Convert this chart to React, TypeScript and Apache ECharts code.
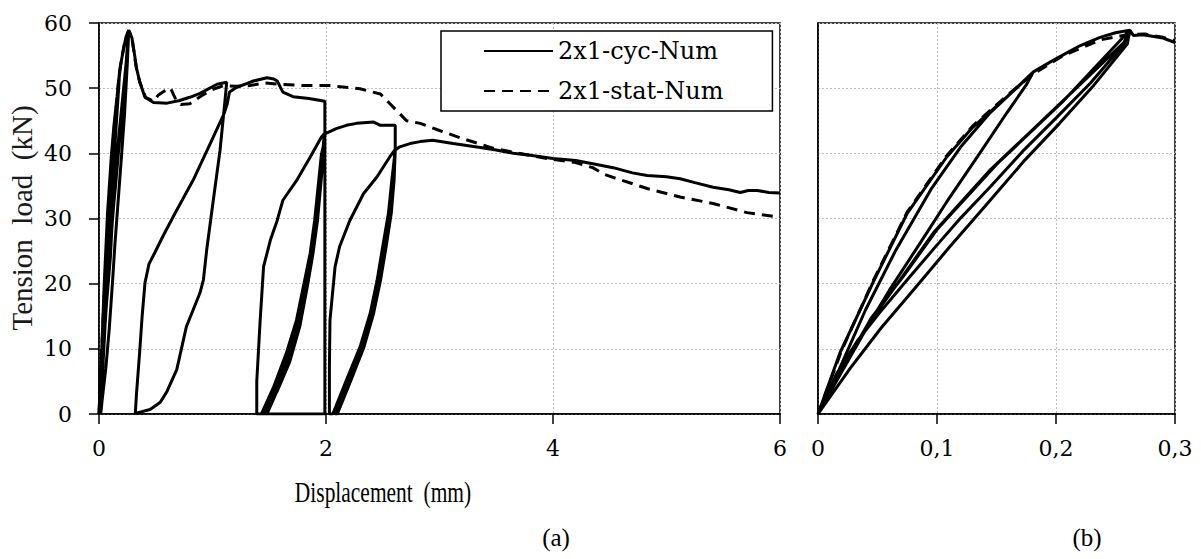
import React, { useEffect, useRef } from "react";
import * as echarts from "echarts";

// ---------- DATA ----------
const seriesNames = ["2x1-cyc-Num", "2x1-stat-Num"];
const xTicksA = [0, 2, 4, 6];
const xTicksB = [0, 0.1, 0.2, 0.3];
const yTicks = [0, 10, 20, 30, 40, 50, 60];

// Panel (a) cyclic, displacement (mm)
const cycAX = [
  0, 0.02, 0.046, 0.075, 0.108, 0.13, 0.159, 0.181,
  0.175, 0.159, 0.134, 0.108, 0.085, 0.06, 0.035, 0.015, 0,
  0.025, 0.05, 0.08, 0.112, 0.14, 0.165, 0.19, 0.206, 0.237, 0.262,
  0.25, 0.225, 0.2, 0.17, 0.14, 0.12, 0.09, 0.06, 0.03, 0.015,
  0.03, 0.055, 0.085, 0.12, 0.16, 0.2, 0.235, 0.26,
  0.229, 0.201, 0.173, 0.145, 0.117, 0.1, 0.069, 0.049, 0.033, 0.016, 0,
  0.02, 0.045, 0.069, 0.097, 0.145, 0.201, 0.257, 0.262,
  0.273, 0.29, 0.31, 0.33, 0.36, 0.405, 0.48, 0.6, 0.71, 0.8, 0.89, 1.04, 1.125,
  1.11, 1.066, 1.007, 0.949, 0.92, 0.89, 0.83, 0.77, 0.685, 0.6, 0.54, 0.45, 0.32,
  0.33, 0.36, 0.38, 0.405, 0.44, 0.49, 0.57, 0.67, 0.83, 0.98, 1.1, 1.13, 1.15, 1.21, 1.3, 1.36, 1.48, 1.54, 1.57, 1.62, 1.71, 1.85, 1.99,
  1.99, 1.39, 1.39, 1.42, 1.45, 1.51, 1.57, 1.62, 1.74, 1.86, 1.96, 1.985,
  1.975, 1.96, 1.93, 1.9, 1.86, 1.8, 1.74, 1.65, 1.54, 1.43,
  1.46, 1.565, 1.672, 1.76, 1.82, 1.875, 1.915, 1.945, 1.972, 1.99,
  1.968, 1.937, 1.895, 1.84, 1.77, 1.68, 1.57, 1.45,
  1.48, 1.585, 1.69, 1.775, 1.835, 1.885, 1.925, 1.952, 1.978, 1.99,
  2.09, 2.18, 2.27, 2.42, 2.48, 2.61, 2.61,
  2.58, 2.55, 2.5, 2.45, 2.39, 2.3, 2.18, 2.06,
  2.03, 2.03, 2.035, 2.08, 2.12, 2.21, 2.33, 2.45, 2.56, 2.605,
  2.595, 2.565, 2.515, 2.465, 2.405, 2.32, 2.2, 2.08,
  2.1, 2.22, 2.335, 2.42, 2.48, 2.53, 2.575, 2.6, 2.61,
  2.65, 2.74, 2.83, 2.94, 3.12, 3.36, 3.5, 3.65, 3.8, 4.0, 4.2, 4.35, 4.53, 4.7, 4.83, 5.0, 5.12, 5.25, 5.41, 5.55, 5.65, 5.72, 5.8, 5.9, 6.0,
];
// Panel (a) cyclic, tension load (kN)
const cycAY = [
  0, 8, 20, 30.8, 39.4, 44, 48.7, 52.5,
  50.5, 46.3, 39.5, 32.5, 26, 19, 11.5, 5, 0,
  9, 19.5, 30, 38.8, 45, 49.5, 53.5, 55.1, 57.8, 58.9,
  54, 46, 40, 33, 26, 20.5, 13, 7, 2.5, 0,
  6, 14, 22, 30, 38.5, 46, 53, 58.6,
  50.8, 45.6, 40.5, 34.9, 29.8, 24, 17.5, 14, 11, 6.7, 0,
  6.5, 14.5, 20.6, 27.8, 37.5, 47.2, 57, 58.9,
  58.5, 57.7, 55.5, 53.1, 50.9, 48.6, 47.8, 47.7, 48.1, 48.6, 49.2, 50.6, 50.9,
  48.1, 40.4, 32.8, 25.2, 20.6, 18.6, 16, 13.4, 6.8, 3.5, 1.8, 0.7, 0.1,
  3, 9.9, 15, 20.1, 23, 24.7, 27.5, 30.8, 35.9, 41.5, 46, 47.6, 49.4, 50.1, 50.7, 51.1, 51.6, 51.4, 51.1, 49.4, 48.7, 48.4, 48.0,
  0, 0, 5, 14.4, 22.6, 26.7, 29.7, 32.8, 35.8, 39.4, 42.5, 43,
  41, 39.9, 34.8, 29.7, 24.6, 19.5, 14.4, 9.3, 4.2, 0,
  0, 4.2, 9.3, 14.4, 19.5, 24.6, 29.7, 34.8, 39.9, 43,
  38, 32, 26, 20, 13.5, 8, 3.5, 0,
  0, 4.2, 9.3, 14.4, 19.5, 24.6, 29.7, 34.8, 39.9, 43,
  43.8, 44.3, 44.6, 44.8, 44.3, 44.3, 40.5,
  35.9, 30.8, 25.7, 20.5, 15.5, 10.3, 5.2, 0,
  0, 7, 14.4, 22.6, 25.7, 29.7, 33.8, 36.4, 39.4, 40.5,
  35.9, 30.8, 25.7, 20.5, 15.5, 10.3, 5.2, 0,
  0, 5.2, 10.3, 15.5, 20.5, 25.7, 30.8, 35.9, 40.5,
  41, 41.5, 41.8, 42, 41.5, 40.9, 40.5, 40, 39.7, 39.2, 38.9, 38.4, 37.8, 37.0, 36.6, 36.4, 36.1, 35.5, 34.8, 34.4, 34, 34.3, 34.3, 34.0, 33.9,
];

// Panel (a) static
const statAX = [
  0, 0.05, 0.11, 0.18, 0.22, 0.26, 0.29, 0.33, 0.36, 0.41, 0.48, 0.52, 0.58, 0.63, 0.67, 0.72, 0.8, 0.9, 1.0, 1.1, 1.2,
  1.33, 1.45, 1.6, 1.8, 2.03, 2.3, 2.48, 2.62, 2.71, 2.83, 3.0, 3.18, 3.47, 3.7, 3.95, 4.2, 4.35, 4.45, 4.53, 4.83,
  5.12, 5.41, 5.71, 6.0,
];
const statAY = [
  0, 20, 39, 52.5, 56.5, 58.8, 57.7, 53, 50.9, 48.6, 48, 48.9, 49.6, 50, 48.5, 47.5, 47.6, 48.8, 49.8, 50.4, 50.3,
  50.4, 50.8, 50.6, 50.4, 50.4, 49.9, 49.1, 46.6, 45, 44.6, 43.5, 42.4, 40.8, 40.0, 39.2, 38.6, 37.8, 36.8, 36.3, 34.6,
  33.3, 32.3, 30.9, 30.2,
];

// Panel (b) cyclic (first cycles)
const cycBX = [
  0, 0.0185, 0.046, 0.075, 0.108, 0.13, 0.159, 0.181,
  0.175, 0.159, 0.134, 0.108, 0.085, 0.06, 0.035, 0.015, 0,
  0.017, 0.04, 0.065, 0.095, 0.12, 0.145, 0.168, 0.181,
  0.195, 0.206, 0.22, 0.237, 0.25, 0.262,
  0.26, 0.229, 0.201, 0.173, 0.145, 0.12, 0.097, 0.075, 0.052, 0.033, 0.016, 0,
  0.02, 0.045, 0.069, 0.097, 0.145, 0.201, 0.257, 0.262,
  0.26, 0.232, 0.203, 0.174, 0.14, 0.11, 0.08, 0.053, 0.027, 0,
  0.02, 0.045, 0.072, 0.1, 0.15, 0.205, 0.262,
  0.265, 0.273, 0.29, 0.3,
];
const cycBY = [
  0, 9.4, 20.1, 30.8, 39.4, 44, 48.7, 52.5,
  50.5, 46.3, 39.5, 32.5, 26, 19, 11.5, 5, 0,
  6.5, 16, 25, 34.5, 41, 46.3, 50.2, 52.5,
  54, 55.1, 56.5, 57.8, 58.5, 58.9,
  57.4, 50.8, 45.6, 40.5, 34.9, 30.1, 25.3, 20.6, 15.6, 11.2, 6.3, 0,
  6.5, 14.5, 20.6, 27.8, 37.5, 47.2, 57, 58.9,
  56.8, 50.5, 44.6, 39, 31.8, 25.5, 19, 13.2, 7, 0,
  6.8, 14.8, 21.2, 28.3, 38.3, 47.8, 58.9,
  58.1, 58.2, 57.7, 57.0,
];

// Panel (b) static
const statBX = [0, 0.02, 0.046, 0.075, 0.108, 0.13, 0.159, 0.181, 0.206, 0.237, 0.26, 0.275, 0.29, 0.3];
const statBY = [0, 9.8, 20.3, 31, 39.6, 44.2, 48.9, 52.2, 55, 57.4, 58.2, 58.3, 57.8, 57.3];

const zip = (xs: number[], ys: number[]) => xs.map((x, i) => [x, ys[i]]);

const FONT = "Liberation Serif";
const TICK_FONT = "DejaVu Serif";

export default function App() {
  const ref = useRef<HTMLDivElement>(null);

  useEffect(() => {
    if (!ref.current) return;
    const chart = echarts.init(ref.current, undefined, { renderer: "svg" });

    const axisLine = { show: true, lineStyle: { color: "#000", width: 1.5 } };
    const splitLine = { show: true, lineStyle: { color: "#bdbdbd", width: 1, type: [2, 2] as any } };
    const tickLabel = { color: "#000", fontFamily: TICK_FONT, fontSize: 22 };
    const solid = { color: "#000", width: 3, type: "solid" as any };
    const dashed = { color: "#000", width: 3, type: [11, 7] as any };

    const option: any = {
      animation: false,
      backgroundColor: "#fff",
      grid: [
        { left: 99, top: 23, width: 681, height: 391, show: true, borderColor: "#000", borderWidth: 1.5, backgroundColor: "transparent" },
        { left: 818, top: 23, width: 357, height: 391, show: true, borderColor: "#000", borderWidth: 1.5, backgroundColor: "transparent" },
      ],
      xAxis: [
        {
          type: "value", gridIndex: 0, min: xTicksA[0], max: xTicksA[xTicksA.length - 1], interval: xTicksA[1] - xTicksA[0],
          axisLine, splitLine,
          axisTick: { show: true, inside: false, length: 10, lineStyle: { color: "#000", width: 1.5 } },
          axisLabel: { ...tickLabel, margin: 23 },
        },
        {
          type: "value", gridIndex: 1, min: xTicksB[0], max: xTicksB[xTicksB.length - 1], interval: 0.1,
          axisLine, splitLine,
          axisTick: { show: true, inside: false, length: 10, lineStyle: { color: "#000", width: 1.5 } },
          axisLabel: {
            ...tickLabel, margin: 23,
            formatter: (v: number) => (v === 0 ? "0" : String(+v.toFixed(1)).replace(".", ",")),
          },
        },
      ],
      yAxis: [
        {
          type: "value", gridIndex: 0, min: yTicks[0], max: yTicks[yTicks.length - 1], interval: 10,
          axisLine, splitLine,
          axisTick: { show: true, inside: false, length: 10, lineStyle: { color: "#000", width: 1.5 } },
          axisLabel: { ...tickLabel, margin: 27 },
        },
        {
          type: "value", gridIndex: 1, min: yTicks[0], max: yTicks[yTicks.length - 1], interval: 10,
          axisLine, splitLine,
          axisTick: { show: false },
          axisLabel: { show: false },
        },
      ],
      legend: {
        orient: "vertical",
        left: 441,
        top: 31,
        data: seriesNames,
        itemWidth: 69,
        itemHeight: 14,
        itemGap: 12,
        padding: [6, 49, 6, 42],
        borderColor: "#000",
        borderWidth: 1.5,
        backgroundColor: "#fff",
        itemStyle: { opacity: 0, borderWidth: 0 },
        textStyle: { color: "#000", fontFamily: TICK_FONT, fontSize: 24, lineHeight: 28 },
        selectedMode: false,
      },
      series: [
        {
          name: seriesNames[0], type: "line", xAxisIndex: 0, yAxisIndex: 0, data: zip(cycAX, cycAY),
          symbol: "none", showSymbol: false, lineStyle: solid, itemStyle: { color: "#000" }, z: 3,
        },
        {
          name: seriesNames[1], type: "line", xAxisIndex: 0, yAxisIndex: 0, data: zip(statAX, statAY),
          symbol: "none", showSymbol: false, lineStyle: dashed, itemStyle: { color: "#000" }, z: 4,
        },
        {
          name: seriesNames[0], type: "line", xAxisIndex: 1, yAxisIndex: 1, data: zip(cycBX, cycBY),
          symbol: "none", showSymbol: false, lineStyle: solid, itemStyle: { color: "#000" }, z: 3,
        },
        {
          name: seriesNames[1], type: "line", xAxisIndex: 1, yAxisIndex: 1, data: zip(statBX, statBY),
          symbol: "none", showSymbol: false, lineStyle: dashed, itemStyle: { color: "#000" }, z: 4,
        },
      ],
      graphic: [
        {
          type: "text", x: 22, y: 218, rotation: Math.PI / 2,
          style: { text: "Tension  load  (kN)", fill: "#1a1a1a", fontFamily: FONT, fontSize: 29,
            textAlign: "center", textVerticalAlign: "middle", align: "center", verticalAlign: "middle" },
        },
        {
          type: "text", x: 383, y: 492, scaleX: 0.74,
          style: { text: "Displacement  (mm)", fill: "#000", fontFamily: FONT, fontSize: 29,
            textAlign: "center", textVerticalAlign: "middle", align: "center", verticalAlign: "middle" },
        },
        {
          type: "text", x: 556, y: 537,
          style: { text: "(a)", fill: "#000", fontFamily: FONT, fontSize: 25,
            textAlign: "center", textVerticalAlign: "middle", align: "center", verticalAlign: "middle" },
        },
        {
          type: "text", x: 1087, y: 537,
          style: { text: "(b)", fill: "#000", fontFamily: FONT, fontSize: 25,
            textAlign: "center", textVerticalAlign: "middle", align: "center", verticalAlign: "middle" },
        },
      ],
    };

    chart.setOption(option);
    return () => chart.dispose();
  }, []);

  return (
    <div
      ref={ref}
      style={{ position: "absolute", left: 0, top: 0, width: 1201, height: 559, background: "#fff" }}
    />
  );
}
